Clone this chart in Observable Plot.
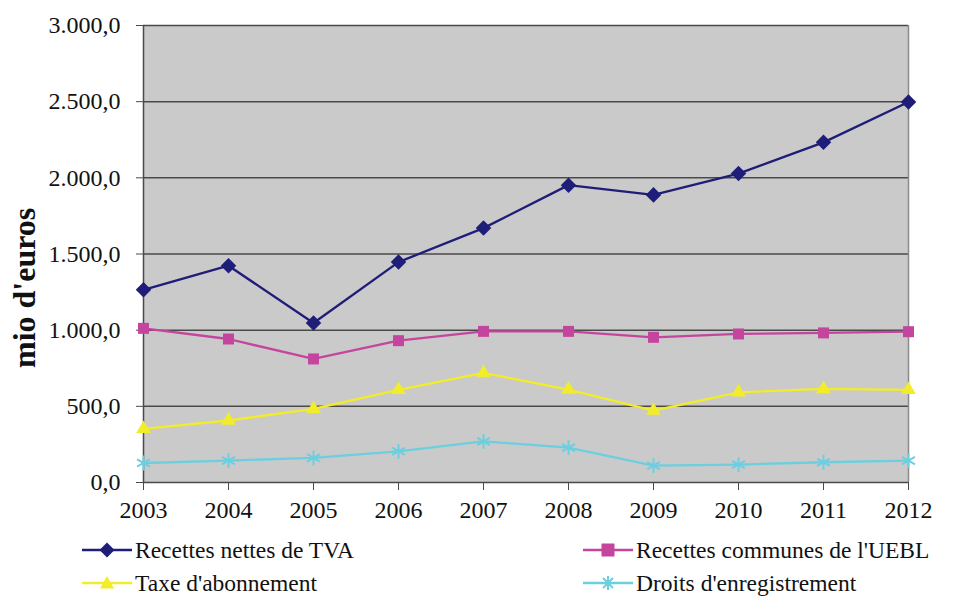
<!DOCTYPE html>
<html>
<head>
<meta charset="utf-8">
<script src="https://cdn.jsdelivr.net/npm/d3@7"></script>
<script src="https://cdn.jsdelivr.net/npm/@observablehq/plot@0.6"></script>
<style>
  body { margin: 0; background: #fff; font-family: "Liberation Serif", "Times New Roman", "DejaVu Serif", serif; }
  #wrap { position: relative; width: 953px; height: 599px; }
  .leg { position: absolute; display: flex; align-items: center; font-size: 23.5px; color: #111; white-space: nowrap; }
  .leg svg { margin-right: 3px; }
</style>
</head>
<body>
<div id="wrap"></div>
<script>
const years = [2003, 2004, 2005, 2006, 2007, 2008, 2009, 2010, 2011, 2012];
const tva    = [1265, 1423, 1047, 1447, 1670, 1952, 1888, 2028, 2233, 2498];
const uebl   = [1012, 942, 811, 931, 992, 992, 953, 975, 982, 990];
const taxe   = [352, 407, 483, 608, 719, 610, 472, 592, 614, 608];
const droits = [128, 144, 162, 205, 270, 229, 111, 118, 133, 144];
const seriesNames = ["Recettes nettes de TVA", "Recettes communes de l'UEBL", "Taxe d'abonnement", "Droits d'enregistrement"];
const seriesValues = [tva, uebl, taxe, droits];
const colors = ["#1e1e78", "#c4459e", "#f2ec2a", "#6ccfe0"];
const symbols = ["diamond2", "square2", "triangle2", "asterisk"];
const yTicks = [0, 500, 1000, 1500, 2000, 2500, 3000];
const yLabel = "mio d'euros";

const loc = d3.formatLocale({decimal: ",", thousands: ".", grouping: [3], currency: ["", "€"]});
const fmt = loc.format(",.1f");
const FONT = "'Liberation Serif', 'Times New Roman', 'DejaVu Serif', serif";

const data = seriesNames.flatMap((s, i) => years.map((y, j) => ({series: s, year: y, value: seriesValues[i][j]})));

const chart = Plot.plot({
  width: 953,
  height: 530,
  marginTop: 25,
  marginBottom: 48,
  marginLeft: 143,
  marginRight: 45,
  style: {fontFamily: FONT, fontSize: "24px", color: "#111", background: "#fff"},
  x: {domain: [2003, 2012], ticks: years, tickFormat: d => String(d)},
  y: {domain: [0, 3000], ticks: yTicks, tickFormat: fmt},
  color: {domain: seriesNames, range: colors},
  symbol: {domain: seriesNames, range: symbols},
  marks: [
    Plot.frame({fill: "#cacaca", stroke: null}),
    Plot.ruleY(yTicks, {stroke: "#4a4a4a", strokeWidth: 1.5}),
    Plot.ruleX([2012], {stroke: "#8a8a8a", strokeWidth: 1.5}),
    Plot.ruleX([2003], {stroke: "#4a4a4a", strokeWidth: 1.5}),
    Plot.axisY({ticks: yTicks, tickFormat: fmt, tickSize: 7, tickPadding: 16, stroke: "#4a4a4a", label: null, fontSize: 24}),
    Plot.axisX({ticks: years, tickFormat: d => String(d), tickSize: 8, tickPadding: 10, stroke: "#4a4a4a", label: null, fontSize: 24}),
    Plot.text([yLabel], {frameAnchor: "left", dx: -119, dy: 114, rotate: -90, text: d => d, fontWeight: "bold", fontSize: 32, fill: "#111"}),
    Plot.line(data, {x: "year", y: "value", z: "series", stroke: "series", strokeWidth: 2.3}),
    Plot.dot(data.filter(d => d.series !== seriesNames[3]), {x: "year", y: "value", fill: "series", symbol: "series", r: 7, stroke: null}),
    Plot.dot(data.filter(d => d.series === seriesNames[3]), {x: "year", y: "value", stroke: "series", symbol: "series", r: 7, strokeWidth: 2})
  ]
});
const wrap = document.getElementById("wrap");
wrap.appendChild(chart);

// Legend
const legPos = [[82, 550], [583, 550], [82, 583], [583, 583]];
const symPaths = {
  "diamond2": "M0,-7.5L7.5,0L0,7.5L-7.5,0Z",
  "square2": "M-6.5,-6.5H6.5V6.5H-6.5Z",
  "triangle2": "M0,-7L7,5.5H-7Z",
  "asterisk": "M-5,-5L5,5M-5,5L5,-5M0,-7V7"
};
seriesNames.forEach((s, i) => {
  const d = document.createElement("div");
  d.className = "leg";
  d.style.left = legPos[i][0] + "px";
  d.style.top = (legPos[i][1] - 15) + "px";
  d.style.height = "30px";
  const filled = symbols[i] !== "asterisk";
  d.innerHTML = `<svg width="50" height="20" viewBox="-25 -10 50 20"><line x1="-25" x2="25" y1="0" y2="0" stroke="${colors[i]}" stroke-width="2.3"/>` +
    `<path d="${symPaths[symbols[i]]}" ${filled ? `fill="${colors[i]}"` : `fill="none" stroke="${colors[i]}" stroke-width="2"`}/></svg><span>${s}</span>`;
  wrap.appendChild(d);
});
</script>
</body>
</html>
